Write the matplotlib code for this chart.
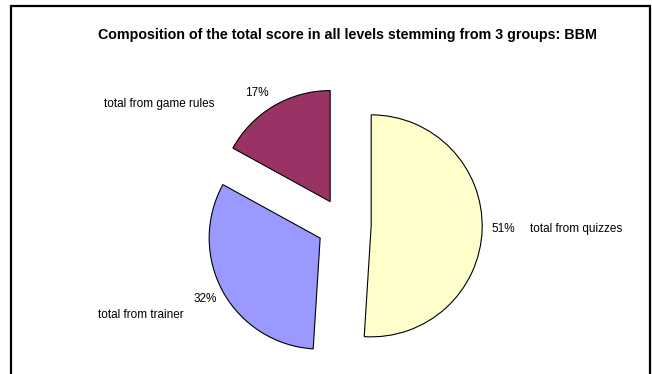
import matplotlib
matplotlib.use("Agg")
import matplotlib.pyplot as plt
from matplotlib.patches import Rectangle

plt.rcParams['font.family'] = ['Liberation Sans', 'DejaVu Sans']

# data
categories = ["total from quizzes", "total from trainer", "total from game rules"]
shares = [51, 32, 17]
colors = ["#FFFFCC", "#9999FF", "#993366"]

W, H = 652, 374
fig = plt.figure(figsize=(W / 100, H / 100), dpi=100)
ax = fig.add_axes([0, 0, 1, 1])
ax.set_xlim(0, W)
ax.set_ylim(0, H)
ax.axis("off")

# outer chart frame (bottom edge falls below the image)
ax.add_patch(Rectangle((11, -10), 639, H - 6 + 10, fill=False,
                       edgecolor="black", linewidth=1.6, clip_on=False))

cx, cy, R = 344, H - 225, 111
# explode is in data units when radius != 1
wedges, _ = ax.pie(shares, colors=colors, startangle=90, counterclock=False,
                   explode=[0.245 * R] * 3, radius=R, center=(cx, cy),
                   wedgeprops=dict(edgecolor="black", linewidth=0.8))
ax.set_xlim(0, W)
ax.set_ylim(0, H)
ax.set_aspect("equal")

# label placement (percent text, category text) in image pixels
pct_pos = [(503, 229), (205, 299), (257, 93)]
cat_pos = [(576, 229), (141, 315), (159, 104)]
for cat, val, (px, py), (qx, qy) in zip(categories, shares, pct_pos, cat_pos):
    ax.text(px, H - py, f"{val}%", ha="center", va="center", fontsize=8.5)
    ax.text(qx, H - qy, cat, ha="center", va="center", fontsize=8.5)

ax.text(347, H - 35, "Composition of the total score in all levels stemming from 3 groups: BBM",
        ha="center", va="center", fontsize=10.3, fontweight="bold")

fig.savefig("out.png", dpi=100)
